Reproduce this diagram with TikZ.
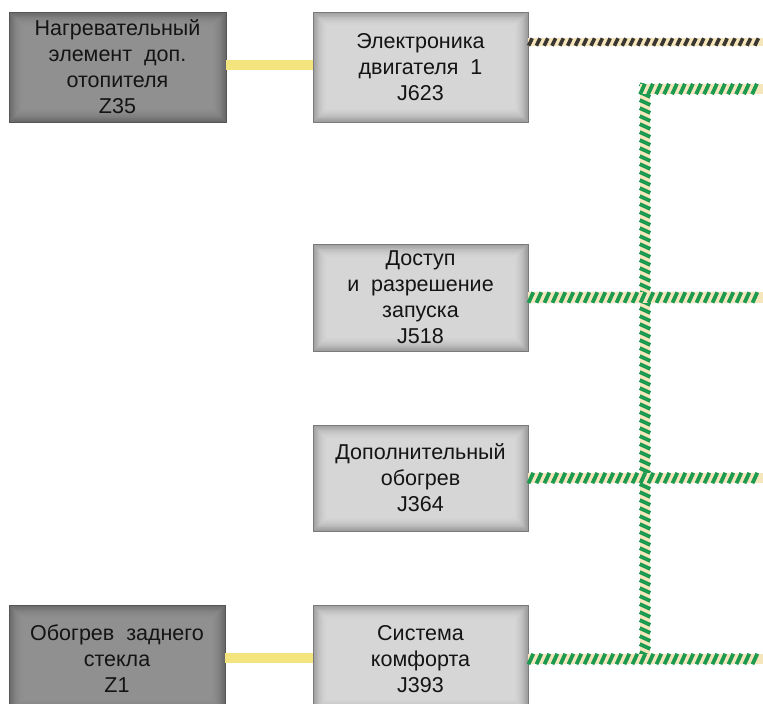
\documentclass[tikz,border=0pt]{standalone}
\usepackage{fontspec}
\setmainfont{Liberation Sans}
\usetikzlibrary{decorations.markings}
\definecolor{lcenter}{HTML}{D6D6D6}
\definecolor{ledge}{HTML}{9E9E9E}
\definecolor{lborder}{HTML}{7A7A7A}
\definecolor{dcenter}{HTML}{909090}
\definecolor{dedge}{HTML}{6A6A6A}
\definecolor{dborder}{HTML}{555555}
\definecolor{wireyellow}{HTML}{F4E47E}
\definecolor{cream}{HTML}{F5E6BC}
\definecolor{wiregreen}{HTML}{1C9A50}
\definecolor{wiredark}{HTML}{3A3632}
\tikzset{
  bevelbox/.style n args={3}{
    rectangle, fill=#2, draw=#3, line width=0.8pt, align=center,
    font=\fontsize{21.5}{26}\selectfont, text=black!92,
    path picture={
      \foreach \i in {1,...,15}{
        \pgfmathtruncatemacro\p{100*(1-(1-\i/15)^1.6)}
        \fill[#1!\p!#2] ([shift={({\i*0.9pt},{\i*0.9pt})}]path picture bounding box.south west)
          rectangle ([shift={({-\i*0.9pt},{-\i*0.9pt})}]path picture bounding box.north east);
      }}},
  lbox/.style={bevelbox={lcenter}{ledge}{lborder}},
  dbox/.style={bevelbox={dcenter}{dedge}{dborder}},
  yellowwire/.style={draw=wireyellow, line width=10pt},
  greencable/.style={draw=cream, line width=10.5pt,
    postaction={decorate, decoration={markings,
      mark=between positions 2.5pt and -2pt step 8pt with
        {\draw[wiregreen, line width=3.8pt] (-2.4pt,-5.25pt) -- (2.4pt,5.25pt);}}}},
  darkcable/.style={draw=cream, line width=7.5pt,
    postaction={decorate, decoration={markings,
      mark=between positions 2pt and -2pt step 7.8pt with
        {\draw[wiredark, line width=3.6pt] (-1.8pt,-3.75pt) -- (1.8pt,3.75pt);}}}},
}
\begin{document}
\begin{tikzpicture}[x=1pt,y=-1pt]
\useasboundingbox[fill=white] (0,0) rectangle (763,704);

% boxes
\node[dbox, minimum width=217pt, minimum height=110pt] (z35) at (117.5,67)
  {Нагревательный\\элемент~ доп.\\отопителя\\Z35};
\node[lbox, minimum width=215pt, minimum height=110pt] (j623) at (420.5,67)
  {Электроника\\двигателя~ 1\\J623};
\node[lbox, minimum width=215pt, minimum height=107pt] (j518) at (420.5,297.5)
  {Доступ\\и~ разрешение\\запуска\\J518};
\node[lbox, minimum width=215pt, minimum height=106pt] (j364) at (420.5,478)
  {Дополнительный\\обогрев\\J364};
\node[lbox, minimum width=215pt, minimum height=108pt] (j393) at (420.5,659)
  {Система\\комфорта\\J393};
\node[dbox, minimum width=216pt, minimum height=108pt] (z1) at (117,659)
  {Обогрев~ заднего\\стекла\\Z1};

% free ends
\coordinate (r) at (763,0);
\coordinate (e623) at (763,42);
\coordinate (bustop) at (645,84);
\coordinate (buscorner) at (640,89);

% yellow wires
\draw[yellowwire] (z35.east |- 0,65) -- (j623.west |- 0,65);
\draw[yellowwire] (z1.east |- 0,658) -- (j393.west |- 0,658);

% dark cable
\draw[darkcable] (j623.east |- e623) -- (e623);

% green bus
\draw[greencable] (bustop) -- (bustop |- j393.east);
\draw[greencable] (buscorner) -- (buscorner -| r);
\draw[greencable] (j518.east) -- (j518.east -| r);
\draw[greencable] (j364.east) -- (j364.east -| r);
\draw[greencable] (j393.east) -- (j393.east -| r);
\end{tikzpicture}
\end{document}
